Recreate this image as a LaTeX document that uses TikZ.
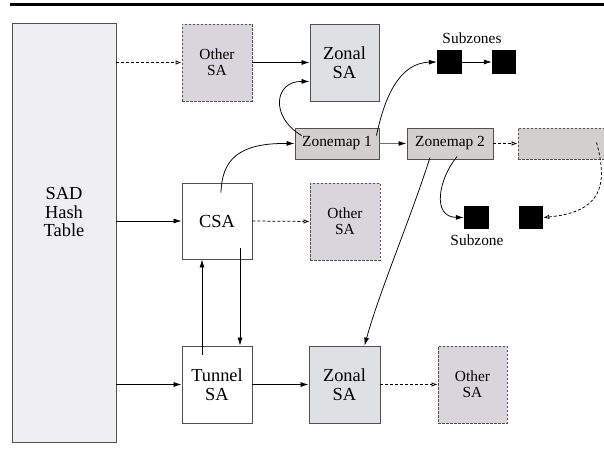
\documentclass[tikz,border=0pt]{standalone}
\usepackage{fontspec}
\setmainfont{Liberation Serif}
\usetikzlibrary{arrows.meta,calc}
\definecolor{tablefill}{HTML}{EFEFF1}
\definecolor{otherfill}{HTML}{D8D6DC}
\definecolor{zonalfill}{HTML}{DDE1E4}
\definecolor{mapfill}{HTML}{D3CFCF}
\definecolor{boxline}{HTML}{505050}
\definecolor{grayarrow}{HTML}{707070}
\begin{document}
\begin{tikzpicture}[x=1pt,y=-1pt,
  box/.style={draw=boxline, line width=0.9pt, inner sep=0pt, align=center,
    minimum width=70pt, minimum height=77pt},
  bigtxt/.style={font=\fontsize{18.4}{18.5}\selectfont},
  smalltxt/.style={font=\fontsize{15.4}{16}\selectfont},
  dashbox/.style={dash pattern=on 2.5pt off 1.5pt},
  othersa/.style={box, smalltxt, dashbox, fill=otherfill},
  zonalsa/.style={box, bigtxt, fill=zonalfill},
  plainsa/.style={box, bigtxt, fill=white},
  zonemap/.style={box, smalltxt, fill=mapfill, minimum height=31pt},
  subzone/.style={fill=black, inner sep=0pt, minimum width=25pt, minimum height=24pt},
  arr/.style={-{Latex[length=8pt,width=5pt]}, line width=0.75pt},
  darr/.style={-{Latex[open,length=6pt,width=4.5pt]}, line width=0.75pt,
    dash pattern=on 3pt off 2pt},
  grayarr/.style={-{Latex[length=8pt,width=5pt,color=black]}, draw=grayarrow, line width=1.2pt},
]
\useasboundingbox (0,0) rectangle (604,457);

% heading rule
\draw[line width=3pt] (10,5) -- (604,5);

% hash table
\node[box, fill=tablefill, minimum width=104pt, minimum height=419pt] (hash) at (64,232.5) {};
\node[bigtxt, align=center, inner sep=0pt] (hashtxt) at (64,212) {SAD\\Hash\\Table};

% top row
\node[othersa] (oth1) at (217,62.5) {Other\\SA};
\node[zonalsa, minimum width=69pt] (zon1) at (344.5,62.5) {Zonal\\SA};
\node[subzone] (sz1) at (449.5,62) {};
\node[subzone, minimum width=24pt] (sz2) at (504,62) {};
\node[smalltxt, inner sep=0pt] (sztxt) at (472,38) {Subzones};

% zone maps
\node[zonemap, minimum width=84pt] (zm1) at (337,143.5) {Zonemap 1};
\node[zonemap, minimum width=86pt] (zm2) at (450,143.5) {Zonemap 2};
\node[zonemap, dashbox, minimum width=102pt] (zm3) at (569,143.5) {};

% middle row
\node[plainsa, minimum height=76pt] (csa) at (217,221) {CSA};
\node[othersa] (oth2) at (345,221.5) {Other\\SA};
\node[subzone, minimum height=23pt] (sz3) at (476.5,217.5) {};
\node[subzone, minimum width=24pt, minimum height=23pt] (sz4) at (531,217.5) {};
\node[smalltxt, inner sep=0pt] (sz3txt) at (477,240) {Subzone};

% bottom row
\node[plainsa] (tun) at (217,384.5) {Tunnel\\SA};
\node[zonalsa, minimum width=71pt] (zon2) at (344.5,384.5) {Zonal\\SA};
\node[othersa, minimum width=69pt] (oth3) at (472.5,384.5) {Other\\SA};

% straight connectors
\draw[darr] (hash.east |- oth1.west) -- (oth1.west);
\draw[arr] (oth1.east) -- (zon1.west);
\draw[arr] (sz1.east) -- (sz2.west);
\draw[arr] (hash.east |- csa.west) -- (csa.west);
\draw[darr] (csa.east) -- (oth2.west);
\draw[arr] (hash.east |- tun.west) -- (tun.west);
\draw[arr] (tun.east) -- (zon2.west);
\draw[darr] (zon2.east) -- (oth3.west);
\draw[grayarr] (zm1.east) -- (zm2.west);
\draw[darr] (zm2.east) -- (zm3.west);

% CSA and tunnel SA
\coordinate (tunup) at ($(tun.north)+(-15,9)$);
\coordinate (csadown) at ($(csa.south)+(23,-11)$);
\draw[arr] (tunup) -- (tunup |- csa.south);
\draw[arr] (csadown) -- (csadown |- tun.north);

% curved connectors
\coordinate (csaup) at ($(csa.north)+(4,10)$);
\draw[arr] (csaup) .. controls (222,160) and (238,143) .. (zm1.west);
\coordinate (zmonea) at ($(zm1.west)+(7,-8)$);
\draw[arr] (zmonea) .. controls (270,117) and (274,81) .. ($(zon1.west)+(0,19)$);
\coordinate (zmoneb) at ($(zm1.east)+(-3,-8)$);
\draw[arr] (zmoneb) .. controls (384,100) and (398,63) .. (sz1.west);
\coordinate (zmtwoa) at ($(zm2.south)+(-20,-2)$);
\draw[arr] (zmtwoa) .. controls (410,220) and (380,290) .. ($(zon2.north)+(20,0)$);
\coordinate (zmtwob) at ($(zm2.south)+(7,-3)$);
\draw[arr] (zmtwob) .. controls (438,180) and (432,217) .. (sz3.west);
\coordinate (zmthree) at ($(zm3.west)+(79,-1)$);
\draw[darr] (zmthree) .. controls (608,185) and (602,212) .. (sz4.east);
\end{tikzpicture}
\end{document}
